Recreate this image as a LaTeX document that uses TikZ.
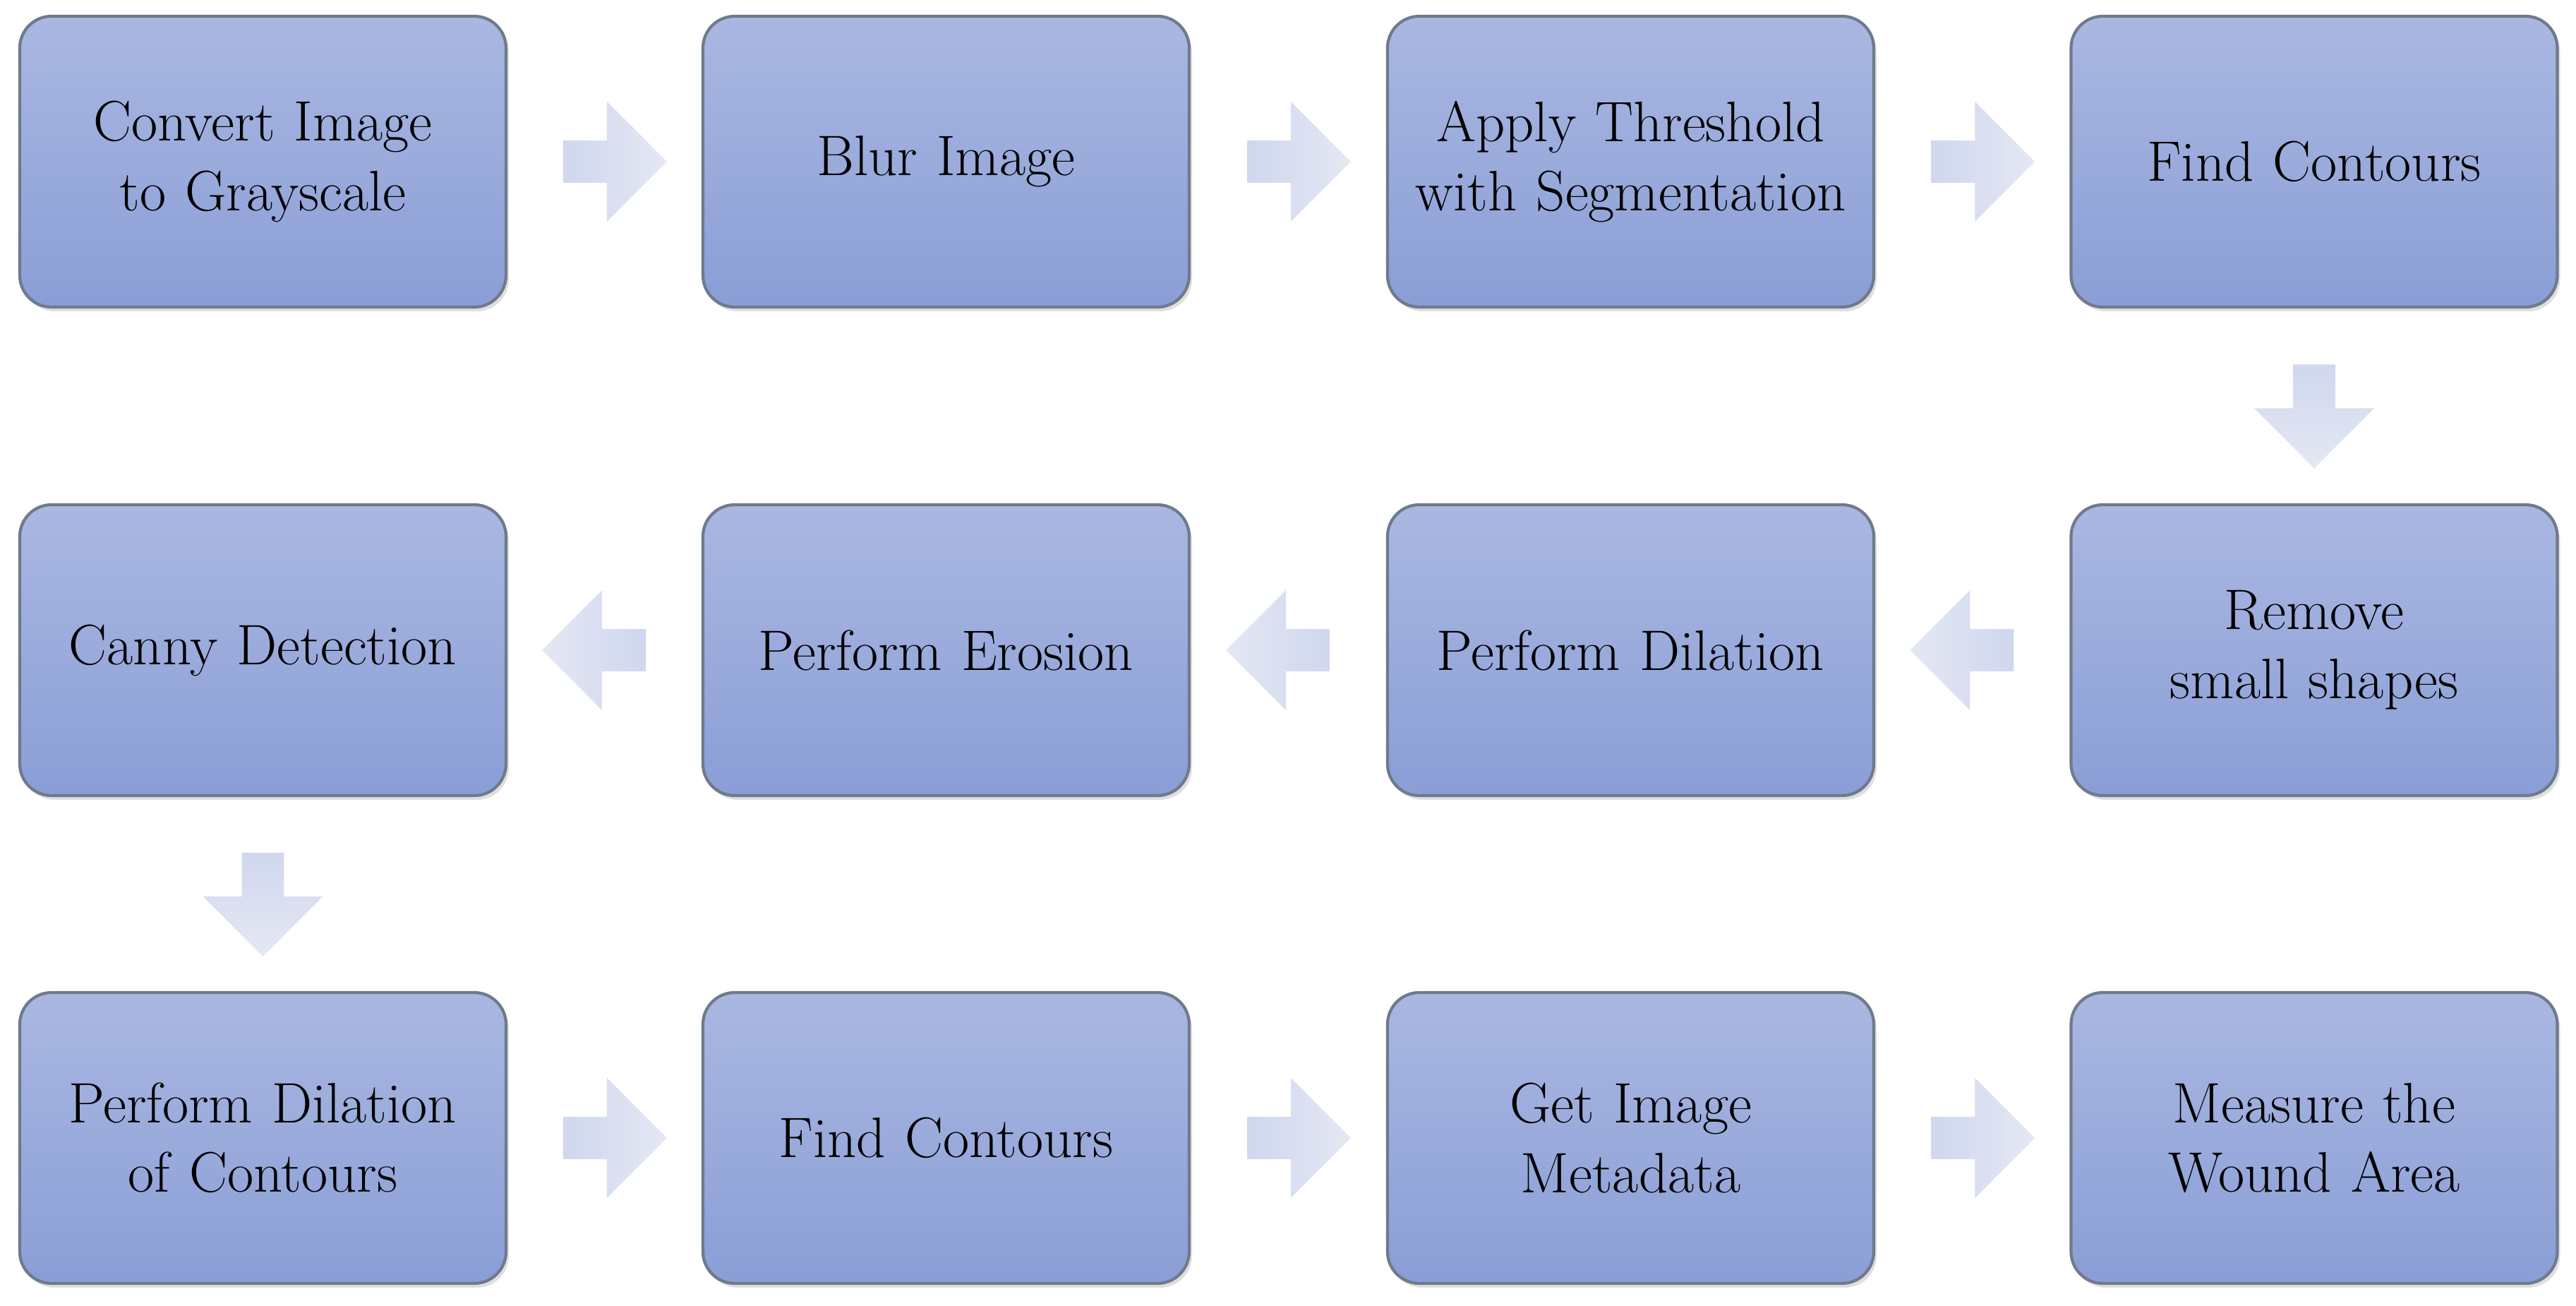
\documentclass[tikz,border=0pt]{standalone}
\usetikzlibrary{shapes.arrows,calc,shadows}
\begin{document}
\begin{tikzpicture}
\definecolor{boxtop}{HTML}{AAB7E1}
\definecolor{boxbot}{HTML}{8A9ED6}
\definecolor{boxline}{HTML}{6F7A8C}
\definecolor{arrtop}{HTML}{D0D7EE}
\definecolor{arrbot}{HTML}{E4E8F4}
\tikzset{
 box/.style={rounded corners=0.45cm, draw=boxline, line width=1.2pt, top color=boxtop, bottom color=boxbot,
   minimum width=6.89cm, minimum height=4.12cm, text width=6.3cm, align=center,
   font=\fontsize{23}{28}\selectfont, drop shadow={opacity=0.25,shadow xshift=0.04cm,shadow yshift=-0.06cm}},
 arr/.style={single arrow, draw=none, left color=arrtop, right color=arrbot,
   minimum height=1.47cm, minimum width=1.7cm, single arrow head extend=0.38cm, inner sep=0.2cm}
}
\useasboundingbox (0,0) rectangle (36.5,18.5);
\node[box] (a1) at (3.725,16.21) {Convert Image to Grayscale};
\node[box] (a2) at (13.405,16.21) {Blur Image};
\node[box] (a3) at (23.105,16.21) {Apply Threshold with Segmentation};
\node[box] (a4) at (32.79,16.21) {Find Contours};
\node[box] (b4) at (32.79,9.29) {Remove small shapes};
\node[box] (b3) at (23.105,9.29) {Perform Dilation};
\node[box] (b2) at (13.405,9.29) {Perform Erosion};
\node[box] (b1) at (3.725,9.29) {Canny Detection};
\node[box] (c1) at (3.725,2.38) {Perform Dilation of Contours};
\node[box] (c2) at (13.405,2.38) {Find Contours};
\node[box] (c3) at (23.105,2.38) {Get Image Metadata};
\node[box] (c4) at (32.79,2.38) {Measure the Wound Area};
\node[arr] (r1) at ($(a1.east)!0.5!(a2.west)$) {};
\node[arr] (r2) at ($(a2.east)!0.5!(a3.west)$) {};
\node[arr] (r3) at ($(a3.east)!0.5!(a4.west)$) {};
\node[arr, shape border rotate=270, top color=arrtop, bottom color=arrbot] (d1) at ($(a4.south)!0.5!(b4.north)$) {};
\node[arr, shape border rotate=180, left color=arrbot, right color=arrtop] (l1) at ($(b4.west)!0.5!(b3.east)$) {};
\node[arr, shape border rotate=180, left color=arrbot, right color=arrtop] (l2) at ($(b3.west)!0.5!(b2.east)$) {};
\node[arr, shape border rotate=180, left color=arrbot, right color=arrtop] (l3) at ($(b2.west)!0.5!(b1.east)$) {};
\node[arr, shape border rotate=270, top color=arrtop, bottom color=arrbot] (d2) at ($(b1.south)!0.5!(c1.north)$) {};
\node[arr] (r4) at ($(c1.east)!0.5!(c2.west)$) {};
\node[arr] (r5) at ($(c2.east)!0.5!(c3.west)$) {};
\node[arr] (r6) at ($(c3.east)!0.5!(c4.west)$) {};
\end{tikzpicture}
\end{document}
